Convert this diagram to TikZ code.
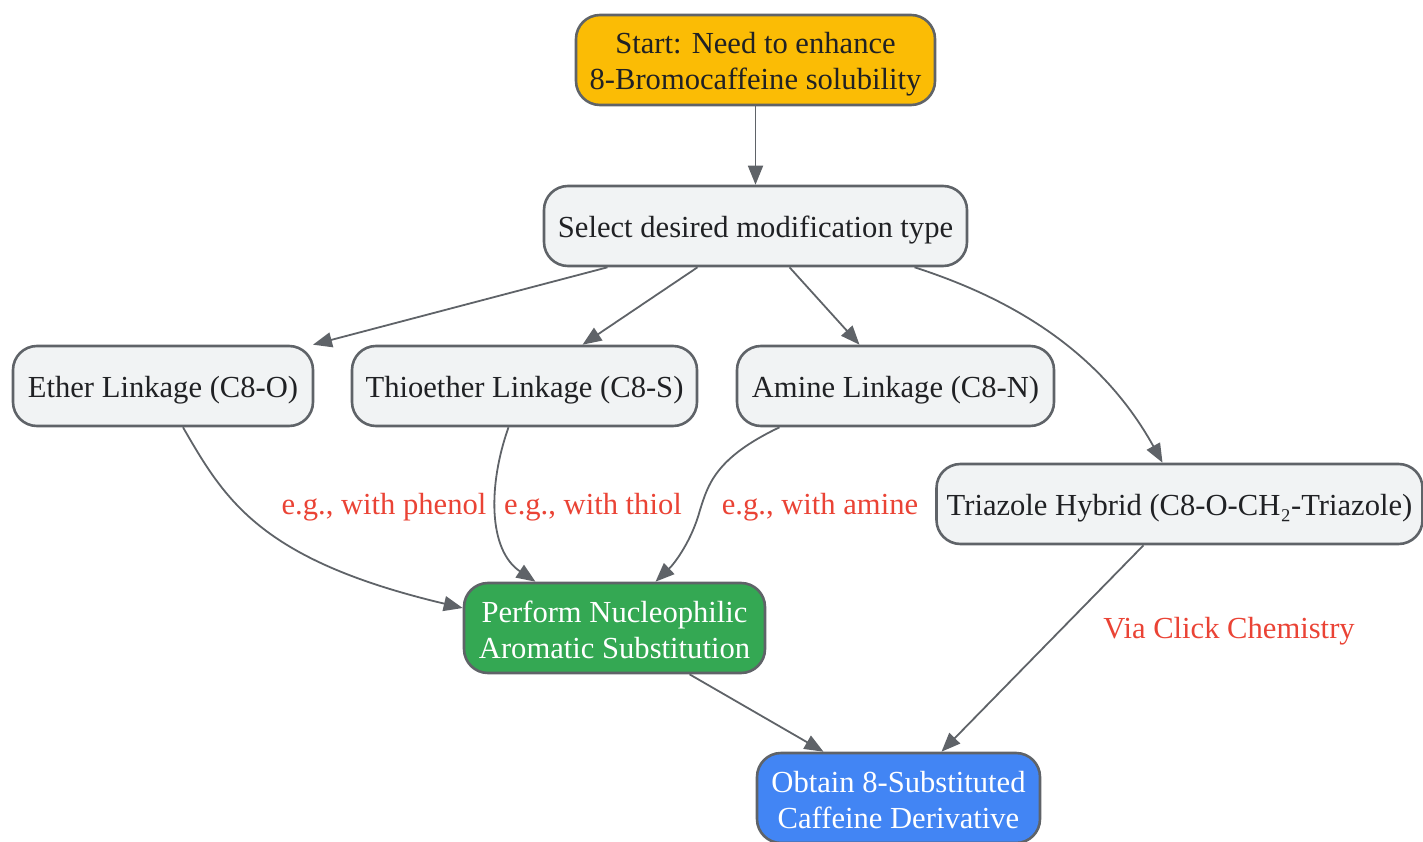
\documentclass[tikz,border=0pt]{standalone}
\usepackage{fontspec}
\setmainfont{Liberation Serif}
\usetikzlibrary{arrows.meta}
\definecolor{edgegray}{HTML}{5F6368}
\definecolor{boxgray}{HTML}{F1F3F4}
\definecolor{startyel}{HTML}{FBBC05}
\definecolor{goodgreen}{HTML}{34A853}
\definecolor{endblue}{HTML}{4285F4}
\definecolor{labred}{HTML}{EA4335}
\definecolor{txt}{HTML}{202124}
\newcommand{\dn}[1]{\raisebox{-4pt}[\height][\depth]{#1}}
\newcommand{\dnb}[1]{\raisebox{-2pt}[\height][\depth]{#1}}
\tikzset{
  box/.style={draw=edgegray, line width=2.6pt, rounded corners=24pt, fill=boxgray,
    text=txt, font=\fontsize{30.6}{36}\selectfont, align=center, inner sep=0pt},
  conn/.style={draw=edgegray, line width=1.8pt, -{Triangle[length=19pt,width=15pt]}},
  lab/.style={text=labred, font=\fontsize{30.6}{36}\selectfont, inner sep=0pt}
}
\begin{document}
\begin{tikzpicture}[x=1pt,y=-1pt]
\useasboundingbox (0,0) rectangle (1423,842);
\node[box, fill=startyel, minimum width=359pt, minimum height=90pt] (start) at (755.5,60) {\dn{Start: Need to enhance}\\\dn{8-Bromocaffeine solubility}};
\node[box, minimum width=423pt, minimum height=80pt] (sel) at (755.5,226) {\dn{Select desired modification type}};
\node[box, minimum width=300pt, minimum height=80pt] (eth) at (163,386) {\dn{Ether Linkage (C8-O)}};
\node[box, minimum width=345pt, minimum height=80pt] (thio) at (524.5,386) {\dn{Thioether Linkage (C8-S)}};
\node[box, minimum width=317pt, minimum height=80pt] (ami) at (895.5,386) {\dn{Amine Linkage (C8-N)}};
\node[box, minimum width=486pt, minimum height=80pt] (tri) at (1179.5,504) {\dn{Triazole Hybrid (C8-O-CH₂-Triazole)}};
\node[box, fill=goodgreen, text=white, minimum width=301pt, minimum height=90pt] (snar) at (614.5,628) {\dnb{Perform Nucleophilic}\\\dnb{Aromatic Substitution}};
\node[box, fill=endblue, text=white, minimum width=283pt, minimum height=90pt] (obt) at (898.5,798) {\dnb{Obtain 8-Substituted}\\\dnb{Caffeine Derivative}};

\draw[conn] (start) -- (sel);
\draw[conn] ([xshift=-148pt]sel.south) -- ([xshift=150pt]eth.north);
\draw[conn] ([xshift=-58pt]sel.south) -- ([xshift=58pt]thio.north);
\draw[conn] ([xshift=34pt]sel.south) -- ([xshift=-36pt]ami.north);
\draw[conn] ([xshift=159pt]sel.south) .. controls (1010,298) and (1100,350) .. ([xshift=-17pt]tri.north);
\draw[conn] ([xshift=20pt]eth.south) .. controls (225,500) and (260,560) .. ([yshift=20pt]snar.west);
\draw[conn] ([xshift=-16pt]thio.south) .. controls (488,485) and (488,550) .. ([xshift=-79pt]snar.north);
\draw[conn] ([xshift=-116pt]ami.south) .. controls (715,458) and (708,485) .. (700,510) .. controls (692,540) and (675,563) .. ([xshift=41pt]snar.north);
\draw[conn] ([xshift=-36pt]tri.south) -- ([xshift=43pt]obt.north);
\draw[conn] ([xshift=75pt]snar.south) -- ([xshift=-75pt]obt.north);

\node[lab] (l1) at (384,507) {e.g., with phenol};
\node[lab] (l2) at (593,507) {e.g., with thiol};
\node[lab] (l3) at (820,507) {e.g., with amine};
\node[lab] (l4) at (1229,631) {Via Click Chemistry};
\end{tikzpicture}
\end{document}
